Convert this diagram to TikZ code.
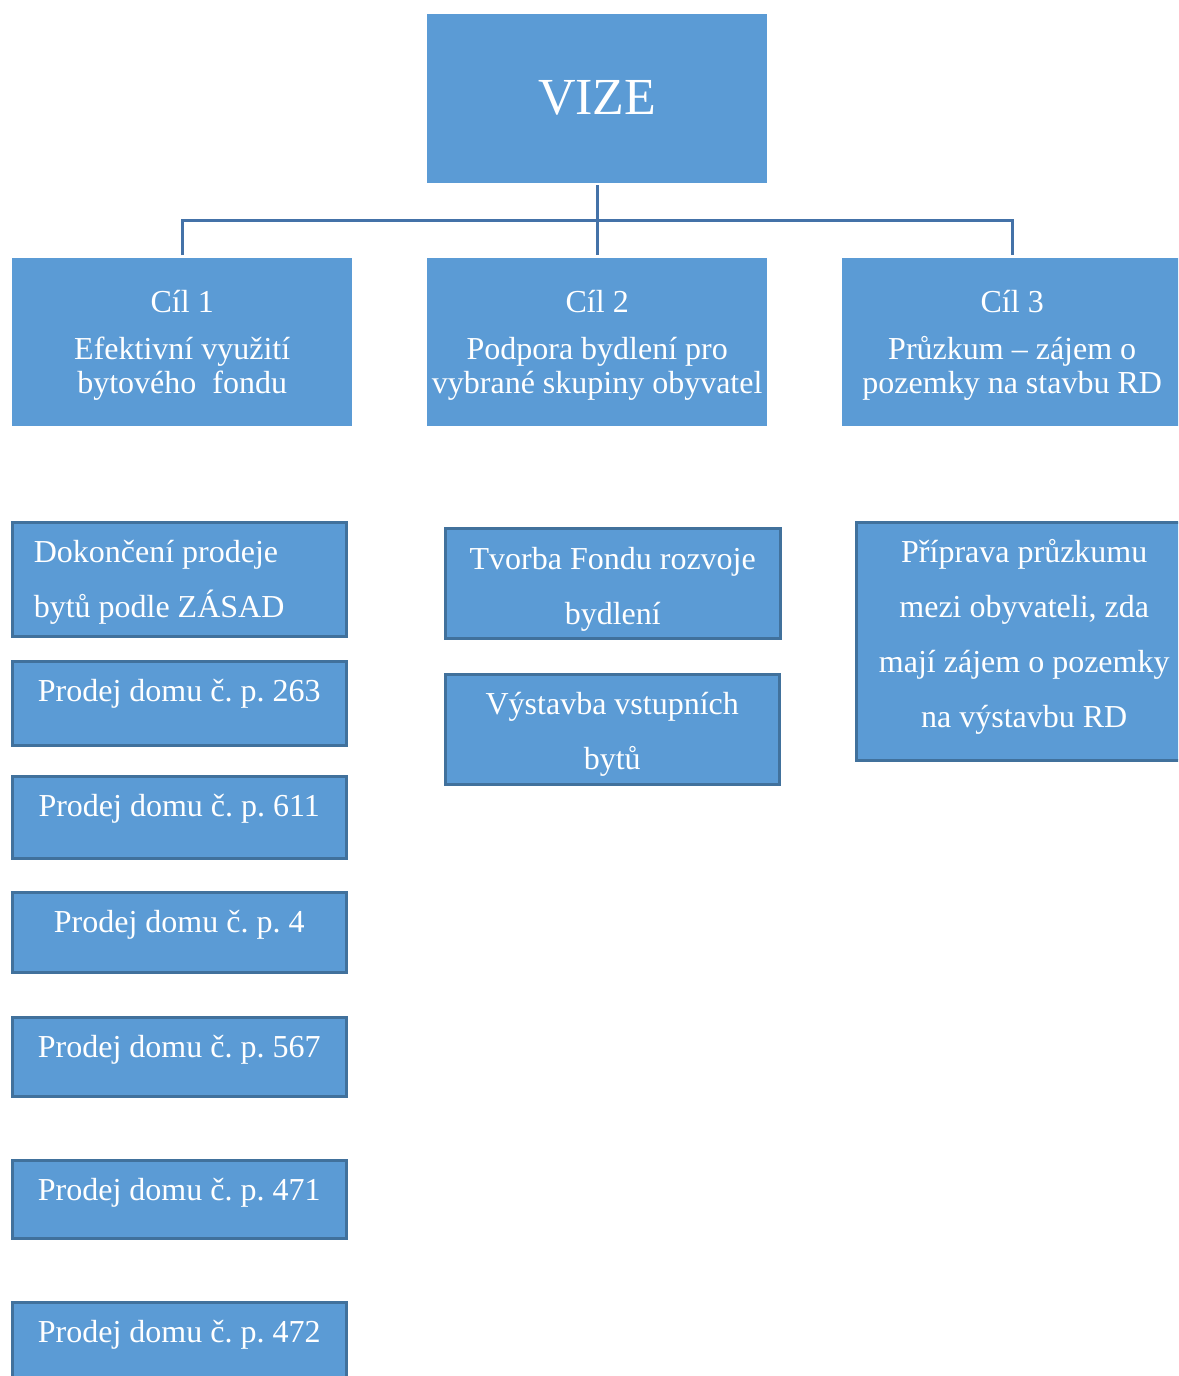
\documentclass[tikz,border=0pt]{standalone}
\usepackage{fontspec}
\setmainfont{Liberation Serif}
\frenchspacing
\usetikzlibrary{positioning,calc}
\definecolor{boxblue}{RGB}{91, 155, 213}
\definecolor{edgeblue}{RGB}{65, 113, 156}
\definecolor{lineblue}{RGB}{68, 114, 168}

\begin{document}
\begin{tikzpicture}[
        x=1pt, y=-1pt,
        visionbox/.style={fill=boxblue, inner sep=0pt, anchor=north west, text width=340pt, align=flush center, text=white, font=\fontsize{52}{60}\selectfont},
        goalbox/.style={fill=boxblue, inner sep=0pt, anchor=north west, text width=340pt, align=flush center, text=white, font=\fontsize{32}{34}\selectfont, text height=54pt, text depth=114pt},
        taskbox/.style={fill=boxblue, draw=edgeblue, line width=2.5pt, inner sep=0pt, anchor=north west, text width=334pt, align=flush center, text=white, font=\fontsize{32}{55}\selectfont, text height=40pt},
        link/.style={draw=lineblue, line width=3pt, shorten <=2pt, shorten >=3pt}
    ]
        \useasboundingbox (0,0) rectangle (1178,1376);
        \clip (0,0) rectangle (1178,1376);

        % Nodes
        \node[visionbox, text height=100pt, text depth=69pt] (vize) at (427,14) {VIZE};

        \node[goalbox] (goal1) at (12,258) {Cíl 1\\[13pt]Efektivní využití\\bytového\ \ fondu};
        \node[goalbox] (goal2) at (427,258) {Cíl 2\\[13pt]Podpora bydlení pro\\vybrané skupiny obyvatel};
        \node[goalbox] (goal3) at (842,258) {Cíl 3\\[13pt]Průzkum – zájem o\\pozemky na stavbu RD};

        \node[taskbox, align=flush left, text width=291pt, inner xsep=21.5pt, text depth=74pt] (sale) at (11,521) {Dokončení prodeje\\bytů podle ZÁSAD};
        \node[taskbox, text depth=44pt] (sale263) at (11,660) {Prodej domu č. p. 263};
        \node[taskbox, text depth=42pt] (sale611) at (11,775) {Prodej domu č. p. 611};
        \node[taskbox, text depth=40pt] (sale4) at (11,891) {Prodej domu č. p. 4};
        \node[taskbox, text depth=39pt] (sale567) at (11,1016) {Prodej domu č. p. 567};
        \node[taskbox, text depth=38pt] (sale471) at (11,1159) {Prodej domu č. p. 471};
        \node[taskbox, text depth=59pt] (sale472) at (11,1301) {Prodej domu č. p. 472};

        \node[taskbox, text width=335pt, text height=41pt, text depth=69pt] (fund) at (444,527) {Tvorba Fondu rozvoje\\bydlení};
        \node[taskbox, text depth=70pt] (starter) at (444,673) {Výstavba vstupních\\bytů};

        \node[taskbox, text width=336pt, text depth=198pt] (survey) at (855,521) {Příprava průzkumu\\mezi obyvateli, zda\\mají zájem o pozemky\\na výstavbu RD};

        % Connectors
        \coordinate (bus) at (597,220);
        \draw[link] (vize.south) -- (goal2.north);
        \draw[link, shorten <=3pt, shorten >=3pt] (goal1.north) |- (bus) -| (goal3.north);
    \end{tikzpicture}
\end{document}
